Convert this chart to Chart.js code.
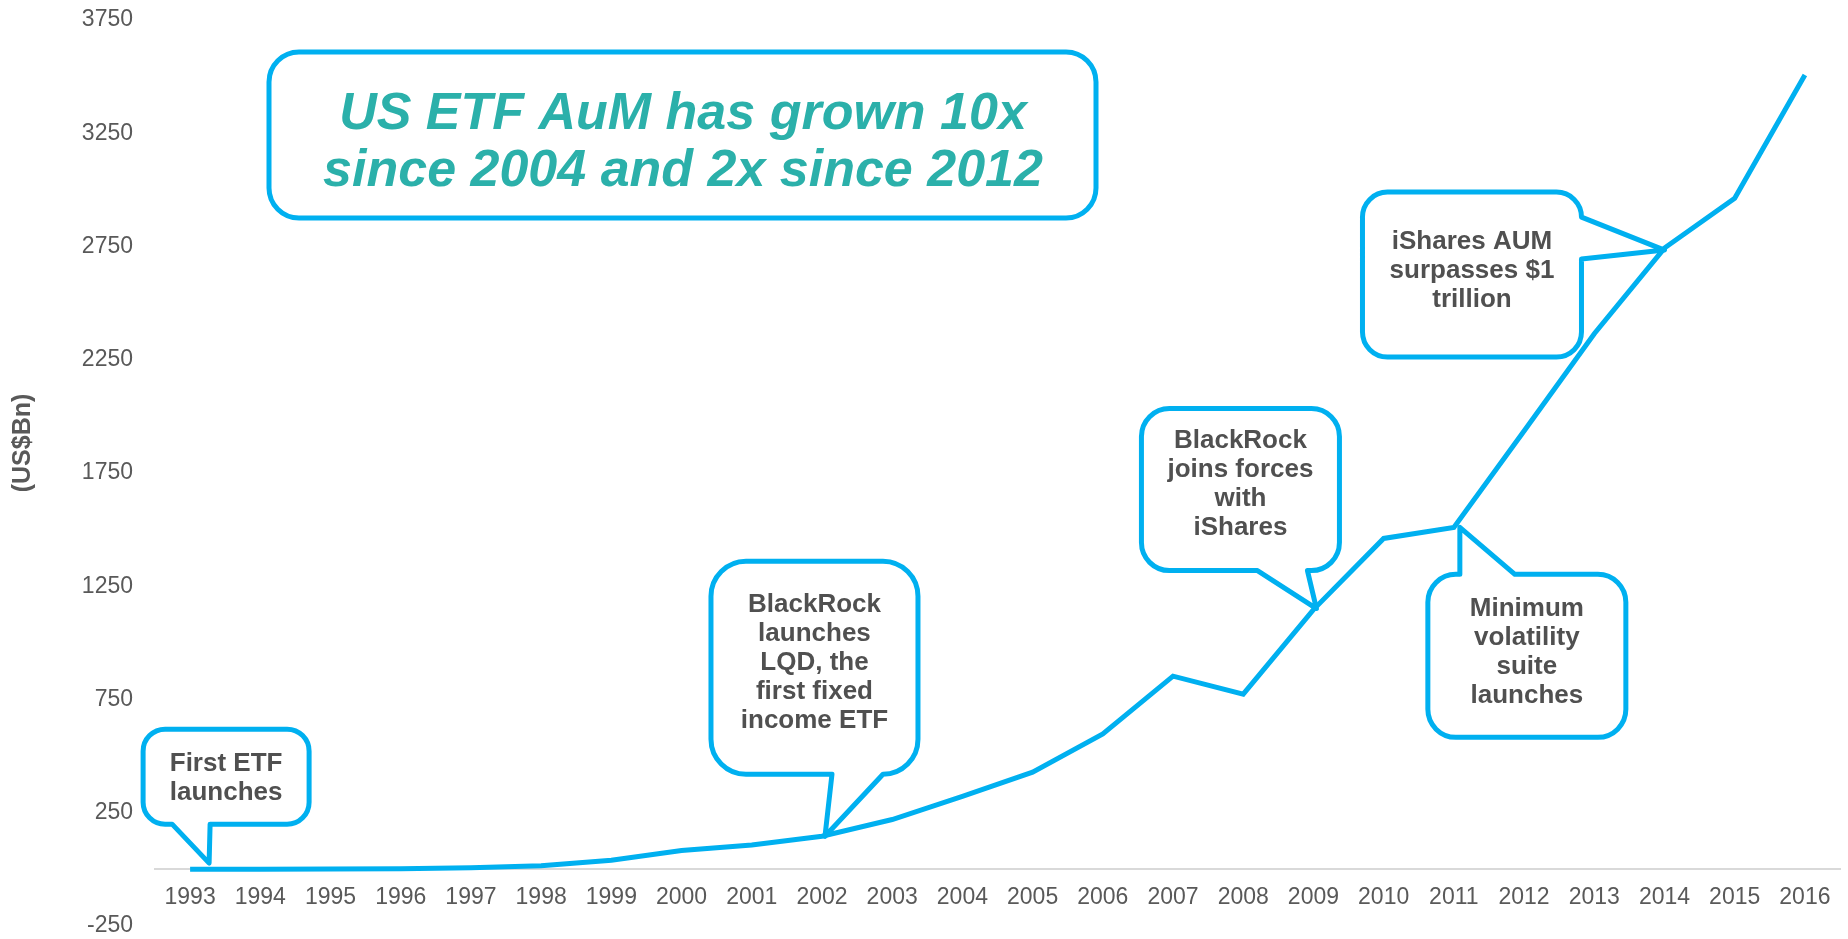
<!DOCTYPE html>
<html>
<head>
<meta charset="utf-8">
<script src="https://cdn.jsdelivr.net/npm/chart.js@4.4.1/dist/chart.umd.min.js"></script>
<style>
  html, body { margin: 0; padding: 0; background: #fff; }
  #wrap { width: 1848px; height: 939px; position: relative; }
</style>
</head>
<body>
<div id="wrap"><canvas id="etfChart"></canvas></div>
<script>
"use strict";

// US ETF assets under management, US$bn
const years = ["1993", "1994", "1995", "1996", "1997", "1998", "1999", "2000", "2001", "2002", "2003", "2004",
  "2005", "2006", "2007", "2008", "2009", "2010", "2011", "2012", "2013", "2014", "2015", "2016"];
const aum = [1, 1, 2, 3, 7, 16, 40, 83, 108, 146, 220, 322,
  429, 598, 853, 774, 1147, 1461, 1510, 1935, 2365, 2743, 2963, 3507];
const yTicks = [-250, 250, 750, 1250, 1750, 2250, 2750, 3250, 3750];

const yAxisTitle = "(US$Bn)";
const headline = ["US ETF AuM has grown 10x", "since 2004 and 2x since 2012"];

// callout events, anchored on the year they point to
const eventYears = ["1993", "2002", "2009", "2011", "2014"];
const eventTexts = [
  ["First ETF", "launches"],
  ["BlackRock", "launches", "LQD, the", "first fixed", "income ETF"],
  ["BlackRock", "joins forces", "with", "iShares"],
  ["Minimum", "volatility", "suite", "launches"],
  ["iShares AUM", "surpasses $1", "trillion"],
];

// bubble layout, in px relative to the tail tip
const bubbleLayout = [
  { dx: 19, dy: -6, box: [-66, -134, 100, -39], r: 22, side: "bottom", a: -37, b: 1, textDy: 2 },
  { dx: 3, dy: 0, box: [-114, -275, 93, -62], r: 35, side: "bottom", a: 7, b: 58, textDy: -5 },
  { dx: 3, dy: -1, box: [-175, -200, 23, -38], r: 28, side: "bottom", a: -59, b: -9, textDy: -5 },
  { dx: 6, dy: 0, box: [-32, 47, 166, 210], r: 28, side: "top", a: 0, b: 55, textDy: -4 },
  { dx: 0, dy: 2, box: [-302, -58, -83, 107], r: 25, side: "right", a: -33, b: 9, textDy: -4 },
];

const BLUE = "#00B0F0";
const FONT = "'Liberation Sans', Arial, sans-serif";

function bubblePath(ctx, x0, y0, x1, y1, r, side, a, b, tx, ty) {
  ctx.beginPath();
  ctx.moveTo(x0 + r, y0);
  if (side === "top") { ctx.lineTo(a, y0); ctx.lineTo(tx, ty); ctx.lineTo(b, y0); }
  ctx.arcTo(x1, y0, x1, y0 + r, r);
  if (side === "right") { ctx.lineTo(x1, a); ctx.lineTo(tx, ty); ctx.lineTo(x1, b); }
  ctx.arcTo(x1, y1, x1 - r, y1, r);
  if (side === "bottom") { ctx.lineTo(b, y1); ctx.lineTo(tx, ty); ctx.lineTo(a, y1); }
  ctx.arcTo(x0, y1, x0, y1 - r, r);
  ctx.arcTo(x0, y0, x0 + r, y0, r);
  ctx.closePath();
}

const annotations = {
  id: "annotations",
  afterDatasetsDraw(chart) {
    const { ctx, scales: { x, y } } = chart;
    ctx.save();
    ctx.lineWidth = 5;
    ctx.lineJoin = "round";
    ctx.strokeStyle = BLUE;
    ctx.fillStyle = "#fff";

    // headline box
    bubblePath(ctx, 269, 52, 1096, 218, 30, "none");
    ctx.fill();
    ctx.stroke();
    ctx.fillStyle = "#2BB0AA";
    ctx.font = "italic bold 52px " + FONT;
    ctx.textAlign = "center";
    ctx.textBaseline = "middle";
    ctx.fillText(headline[0], 683, 115);
    ctx.fillText(headline[1], 683, 172);

    // speech bubbles
    eventYears.forEach((yr, k) => {
      const i = years.indexOf(yr);
      const L = bubbleLayout[k];
      const tx = x.getPixelForValue(i) + L.dx;
      const ty = y.getPixelForValue(aum[i]) + L.dy;
      const [bx0, by0, bx1, by1] = L.box;
      const x0 = tx + bx0, y0 = ty + by0, x1 = tx + bx1, y1 = ty + by1;
      const horiz = L.side === "right";
      const a = horiz ? ty + L.a : tx + L.a;
      const b = horiz ? ty + L.b : tx + L.b;
      ctx.fillStyle = "#fff";
      bubblePath(ctx, x0, y0, x1, y1, L.r, L.side, a, b, tx, ty);
      ctx.fill();
      ctx.stroke();

      const lines = eventTexts[k];
      const lh = 29;
      const cy = (y0 + y1) / 2 + L.textDy;
      ctx.fillStyle = "#505050";
      ctx.font = "bold 26px " + FONT;
      lines.forEach((t, j) => {
        ctx.fillText(t, (x0 + x1) / 2, cy + (j - (lines.length - 1) / 2) * lh);
      });
    });

    // y axis title
    ctx.translate(23, 443);
    ctx.rotate(-Math.PI / 2);
    ctx.fillStyle = "#595959";
    ctx.font = "bold 25px " + FONT;
    ctx.fillText(yAxisTitle, 0, 0);
    ctx.restore();
  }
};

function initChart() {
  const ctx = document.getElementById("etfChart").getContext("2d");
  new Chart(ctx, {
    type: "line",
    data: {
      labels: years,
      datasets: [
        {
          label: "US ETF AuM",
          data: aum,
          borderColor: BLUE,
          borderWidth: 5,
          tension: 0,
          pointRadius: 0,
          fill: false
        },
      ],
    },
    options: {
      responsive: true,
      maintainAspectRatio: false,
      animation: false,
      layout: { padding: { top: 20, bottom: 13, right: 8, left: 0 } },
      plugins: {
        legend: { display: false },
        tooltip: { enabled: false },
      },
      scales: {
        x: {
          position: { y: 0 },
          offset: true,
          grid: { display: false, drawTicks: false },
          border: { display: true, color: "#D9D9D9", width: 2 },
          ticks: {
            color: "#595959",
            font: { family: FONT, size: 23 },
            padding: 14,
            autoSkip: false,
            maxRotation: 0,
          },
        },
        y: {
          min: -250,
          max: 3750,
          afterBuildTicks: s => { s.ticks = yTicks.map(v => ({ value: v })); },
          afterFit: s => {
            s.width = 155;
            s.paddingTop = 0;
            s.paddingBottom = 0;
          },
          grid: { display: false, drawTicks: false },
          border: { display: false },
          ticks: {
            color: "#595959",
            font: { family: FONT, size: 23 },
            padding: 22,
            callback: v => String(v),
          },
        },
      },
    },
    plugins: [annotations],
  });
}

document.addEventListener("DOMContentLoaded", initChart);
</script>
</body>
</html>
